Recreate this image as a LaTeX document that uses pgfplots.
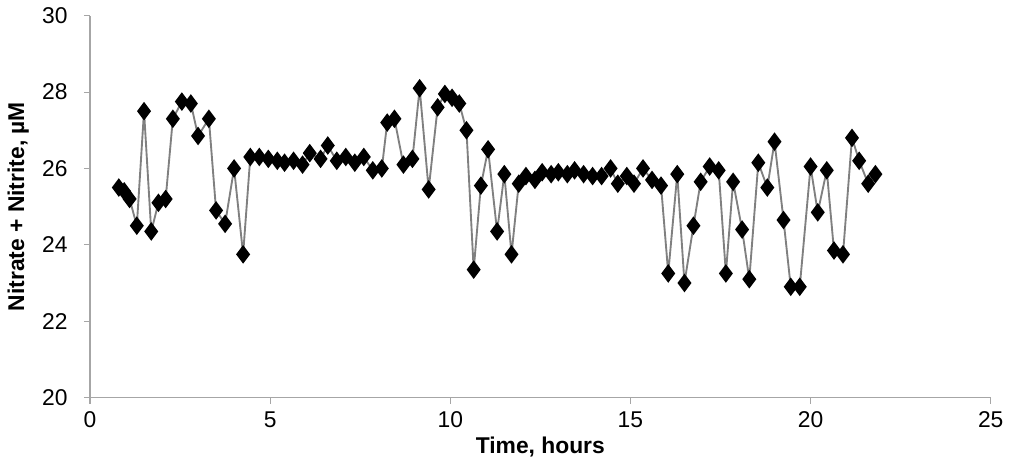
\documentclass[border=0pt]{standalone}
\usepackage{pgfplots}
\pgfplotsset{compat=1.18}
\usepackage{fontspec}
\setmainfont{Liberation Sans}
\begin{document}
\fontsize{22}{26}\selectfont
\begin{tikzpicture}
\begin{axis}[scale only axis, width=868pt, height=368pt,
 xmin=0, xmax=25, ymin=20, ymax=30,
 xtick={0,5,10,15,20,25}, ytick={20,22,24,26,28,30},
 axis x line*=bottom, axis y line*=left,
 axis line style={draw=gray!70, line width=1pt}, tick style={draw=gray!70, line width=1pt},
 tick align=outside, major tick length=6pt,
 /pgf/number format/assume math mode=true,
 ticklabel style={font=\fontsize{22}{26}\selectfont},
 yticklabel style={xshift=-8pt},
 xlabel={\textbf{Time, hours}}, ylabel={\textbf{Nitrate + Nitrite, µM}},
 label style={font=\fontsize{22}{26}\selectfont},
 ylabel style={yshift=-2pt}, xlabel style={yshift=6pt},
 axis lines*=left]
\addplot[color=gray, line width=1.8pt, mark=diamond*, mark size=7.5pt, mark options={black, fill=black}] coordinates {
(0.8,25.5)(0.95,25.4)(1.1,25.2)(1.3,24.5)(1.5,27.5)(1.7,24.35)(1.9,25.1)(2.1,25.2)(2.3,27.3)(2.55,27.75)(2.8,27.7)(3.0,26.85)(3.3,27.3)(3.5,24.9)(3.75,24.55)(4.0,26.0)(4.25,23.75)(4.45,26.3)(4.7,26.3)(4.95,26.25)(5.2,26.2)(5.4,26.15)(5.65,26.2)(5.9,26.1)(6.1,26.4)(6.4,26.25)(6.6,26.6)(6.85,26.2)(7.1,26.3)(7.35,26.15)(7.6,26.3)(7.85,25.95)(8.1,26.0)(8.25,27.2)(8.45,27.3)(8.7,26.1)(8.95,26.25)(9.15,28.1)(9.4,25.45)(9.65,27.6)(9.85,27.95)(10.05,27.85)(10.25,27.7)(10.45,27.0)(10.65,23.35)(10.85,25.55)(11.05,26.5)(11.3,24.35)(11.5,25.85)(11.7,23.75)(11.9,25.6)(12.1,25.8)(12.35,25.7)(12.55,25.9)(12.8,25.85)(13.0,25.9)(13.25,25.85)(13.45,25.95)(13.7,25.85)(13.95,25.8)(14.2,25.8)(14.45,26.0)(14.65,25.6)(14.9,25.8)(15.1,25.6)(15.35,26.0)(15.6,25.7)(15.85,25.55)(16.05,23.25)(16.3,25.85)(16.5,23.0)(16.75,24.5)(16.95,25.65)(17.2,26.05)(17.45,25.95)(17.65,23.25)(17.85,25.65)(18.1,24.4)(18.3,23.1)(18.55,26.15)(18.8,25.5)(19.0,26.7)(19.25,24.65)(19.45,22.9)(19.7,22.9)(20.0,26.05)(20.2,24.85)(20.45,25.95)(20.65,23.85)(20.9,23.75)(21.15,26.8)(21.35,26.2)(21.6,25.6)(21.8,25.85)};
\end{axis}
\end{tikzpicture}
\end{document}
